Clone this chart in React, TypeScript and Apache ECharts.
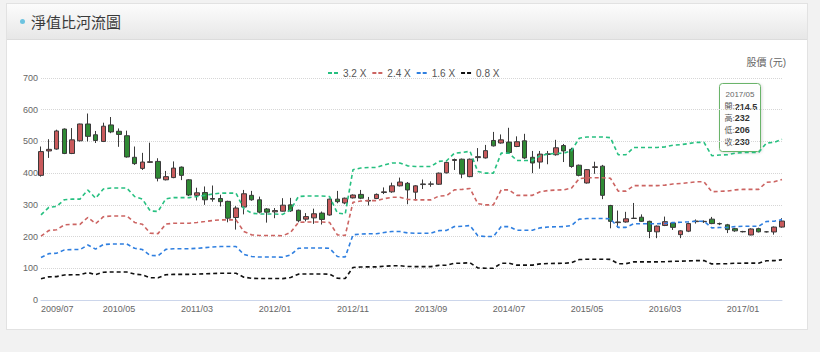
import React, { useEffect, useRef } from "react";
import * as echarts from "echarts";

// Monthly categories 2009/07 .. 2017/06
const startYear = 2009;
const startMonth = 7;
const monthCount = 96;
const months: string[] = [];
for (let i = 0; i < monthCount; i++) {
  const m = startMonth - 1 + i;
  const y = startYear + Math.floor(m / 12);
  const mm = (m % 12) + 1;
  months.push(`${y}/${String(mm).padStart(2, "0")}`);
}

const opens = [
  393, 470, 476, 539, 462, 502, 555, 521, 500, 552, 532, 518, 450, 415, 434, 437,
  379, 386, 419, 379, 330, 339, 320, 320, 311, 260, 293, 330, 316, 287, 278, 280,
  300, 283, 255, 259, 274, 268, 318, 306, 322, 333, 312, 320, 339, 341, 360, 368,
  340, 364, 365, 365, 401, 440, 444, 389, 449, 448, 503, 495, 498, 484, 502, 450,
  435, 459, 458, 487, 475, 425, 369, 418, 422, 298, 244, 246, 257, 261, 248, 215,
  235, 243, 206, 217, 247, 247, 255, 241, 237, 225, 216, 205, 225, 215, 214.5, 230,
];
const highs = [
  484, 507, 537, 541, 542, 556, 588, 533, 559, 577, 541, 534, 484, 464, 496, 447,
  407, 437, 421, 381, 354, 358, 361, 332, 313, 296, 347, 344, 326, 290, 290, 321,
  322, 285, 274, 288, 279, 320, 344, 323, 333, 347, 325, 336, 355, 370, 386, 372,
  362, 380, 374, 402, 436, 446, 446, 446, 479, 489, 530, 522, 543, 516, 524, 470,
  470, 470, 505, 492, 480, 427, 413, 436, 426, 300, 282, 278, 306, 270, 250, 235,
  263, 246, 220, 244, 254, 251, 262, 244, 240, 227, 218, 226, 228, 217, 232, 258,
];
const lows = [
  389, 448, 474, 460, 460, 500, 500, 495, 498, 526, 483, 449, 426, 410, 432, 374,
  377, 384, 378, 328, 314, 300, 310, 295, 245, 222, 270, 313, 273, 244, 258, 279,
  278, 245, 248, 240, 238, 266, 305, 302, 320, 318, 298, 318, 334, 338, 358, 302,
  314, 350, 357, 363, 399, 410, 384, 387, 437, 446, 484, 493, 463, 482, 445, 400,
  414, 428, 455, 435, 417, 390, 367, 398, 318, 226, 228, 244, 256, 246, 195, 195,
  233, 221, 195, 214, 241, 243, 239, 236, 211, 215, 213, 204, 213, 213, 206, 228,
];
const closes = [
  468, 475, 533, 462, 505, 555, 516, 503, 548, 530, 522, 451, 430, 435, 436, 384,
  389, 416, 393, 331, 338, 316, 318, 310, 258, 290, 335, 316, 277, 277, 282, 299,
  281, 250, 263, 272, 254, 318, 310, 321, 331, 321, 314, 333, 341, 360, 372, 347,
  360, 366, 366, 400, 434, 443, 397, 444, 452, 471, 486, 505, 465, 499, 448, 432,
  460, 461, 480, 470, 421, 393, 411, 420, 330, 248, 246, 256, 258, 248, 216, 233,
  247, 229, 218, 241, 249, 248, 241, 240, 222, 218, 215, 224, 215, 215, 230, 249,
];

// Book value per share (the river bands are multiples of it)
const bookValue = [
  83.8, 91.3, 92.2, 98.8, 99.4, 99.4, 108.4, 100.3, 109.4, 110.3, 110.3, 110.3, 101.9, 99.4, 87.8, 87.2,
  99.7, 100.9, 100.9, 100.9, 101.9, 103.1, 104.4, 105.3, 105.3, 105.3, 90.0, 85.6, 84.7, 84.7, 84.7, 84.4,
  88.8, 101.9, 102.5, 102.5, 102.5, 101.9, 85.6, 84.7, 128.4, 130.0, 130.6, 130.6, 133.1, 135.0, 135.0, 132.2,
  131.6, 131.6, 131.6, 136.6, 137.2, 144.7, 145.3, 146.6, 126.6, 125.0, 125.0, 144.7, 144.7, 137.5, 137.5, 137.5,
  142.2, 143.8, 144.4, 144.7, 146.9, 159.4, 160.6, 160.6, 160.6, 160.0, 143.1, 143.1, 150.3, 150.3, 150.3, 150.3,
  150.9, 152.5, 153.1, 154.1, 155.3, 155.3, 142.2, 142.8, 143.1, 144.7, 145.3, 145.3, 145.3, 154.7, 155.3, 158.4,
];
const bandMultiples = [3.2, 2.4, 1.6, 0.8];
const bandNames = ["3.2 X", "2.4 X", "1.6 X", "0.8 X"];
const bandColors = ["#27c080", "#cc6462", "#2f7fe0", "#111111"];

const tooltipIndex = 94;
const tooltipLabels = ["開", "高", "低", "收"];

const FONT = "'Liberation Sans', Arial, 'Noto Sans CJK TC', sans-serif";
const DASH_ICON = "path://M0 0H4V2H0Z M6 0H10V2H6Z";

export default function App() {
  const ref = useRef<HTMLDivElement>(null);

  useEffect(() => {
    if (!ref.current) return;
    const chart = echarts.init(ref.current, null, { renderer: "svg" });
    const candleData = opens.map((o, i) => [o, closes[i], lows[i], highs[i]]);
    const tipValues = [opens[tooltipIndex], highs[tooltipIndex], lows[tooltipIndex], closes[tooltipIndex]];

    chart.setOption({
      animation: false,
      textStyle: { fontFamily: FONT },
      grid: { left: 41, right: 38, top: 78, bottom: 52, containLabel: false },
      legend: {
        top: 63,
        left: 323,
        itemWidth: 10,
        itemHeight: 2,
        itemGap: 6,
        icon: DASH_ICON,
        data: bandNames.map((n) => ({ name: n, icon: DASH_ICON })),
        textStyle: { fontSize: 10, color: "#555", fontFamily: FONT },
      },
      xAxis: {
        type: "category",
        data: months,
        boundaryGap: false,
        axisLine: { lineStyle: { color: "#ccd6eb" } },
        axisTick: { show: false },
        axisLabel: { interval: 9, fontSize: 9, color: "#666", margin: 4, alignMinLabel: "left" },
        splitLine: { show: false },
      },
      yAxis: {
        type: "value",
        min: 0,
        max: 700,
        interval: 100,
        axisLine: { show: false },
        axisTick: { show: false },
        axisLabel: { fontSize: 9, color: "#666", margin: 3 },
        splitLine: { lineStyle: { color: "#d6d6d6", type: "dotted", width: 1 } },
      },
      series: [
        {
          type: "candlestick",
          data: candleData,
          barWidth: 5,
          silent: true,
          itemStyle: {
            color: "#c95a5c",
            color0: "#2f8a34",
            borderColor: "#3a3a3a",
            borderColor0: "#3a3a3a",
            borderWidth: 1,
          },
          z: 2,
        },
        ...bandMultiples.map((m, k) => ({
          name: bandNames[k],
          type: "line",
          data: bookValue.map((v) => Math.round(v * m * 10) / 10),
          symbol: "none",
          showSymbol: false,
          silent: true,
          lineStyle: { type: [4, 3], width: 1.6, color: bandColors[k] },
          itemStyle: { color: bandColors[k] },
          z: 3,
        })),
      ],
      graphic: [
        {
          type: "text",
          right: 34,
          top: 57,
          style: { text: "股價 (元)", fontSize: 10, fill: "#666", fontFamily: FONT },
        },
        {
          type: "group",
          left: 719,
          top: 83,
          z: 100,
          children: [
            {
              type: "rect",
              shape: { x: 0, y: 0, width: 41, height: 68, r: 3 },
              style: {
                fill: "rgba(255,255,255,0.94)",
                stroke: "#6ab46a",
                lineWidth: 1,
                shadowBlur: 3,
                shadowColor: "rgba(0,0,0,0.15)",
                shadowOffsetX: 1,
                shadowOffsetY: 1,
              },
            },
            {
              type: "text",
              x: 6,
              y: 11,
              style: { text: months[tooltipIndex], fontSize: 8, fill: "#666", fontFamily: FONT, verticalAlign: "middle" },
            },
            ...tooltipLabels.map((lab, j) => ({
              type: "text",
              x: 5,
              y: 23 + j * 11.9,
              style: {
                text: `{l|${lab}:}{v|${tipValues[j]}}`,
                verticalAlign: "middle",
                rich: {
                  l: { fontSize: 8, fill: "#555", fontFamily: FONT },
                  v: { fontSize: 9, fill: "#333", fontWeight: "bold", fontFamily: FONT },
                },
              },
            })),
          ],
        },
      ],
    });
    return () => chart.dispose();
  }, []);

  return (
    <div
      style={{
        position: "fixed",
        left: 0,
        top: 0,
        width: 820,
        height: 352,
        background: "#f2f2f2",
        overflow: "hidden",
      }}
    >
      <div
        style={{
          position: "absolute",
          left: 6,
          top: 3,
          width: 802,
          height: 327,
          background: "#fff",
          border: "1px solid #e2e2e2",
          boxSizing: "border-box",
        }}
      >
        <div
          style={{
            height: 36,
            background: "linear-gradient(#fcfcfc, #e7e7e7)",
            borderBottom: "1px solid #dcdcdc",
            display: "flex",
            alignItems: "center",
            boxSizing: "border-box",
          }}
        >
          <span
            style={{
              display: "inline-block",
              width: 5,
              height: 5,
              borderRadius: 3,
              background: "#6cc3e0",
              marginLeft: 13,
              marginRight: 6,
            }}
          />
          <span
            style={{
              fontFamily: "'Noto Sans CJK TC', sans-serif",
              fontSize: 15,
              color: "#3a3a3a",
              letterSpacing: 0,
            }}
          >
            淨值比河流圖
          </span>
        </div>
      </div>
      <div ref={ref} style={{ position: "absolute", left: 0, top: 0, width: 820, height: 352 }} />
    </div>
  );
}
